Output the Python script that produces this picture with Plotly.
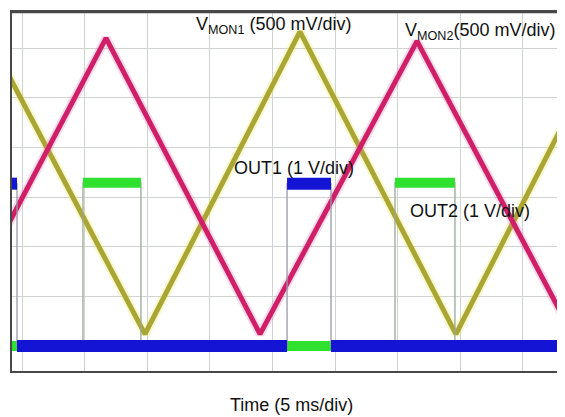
import plotly.graph_objects as go

# time in ms (5 ms/div), signal in screen divisions
vmon1_time = [-2.9, 9.82, 22.2, 34.66, 47.0]
vmon1_div = [6.33, 0.24, 6.33, 0.24, 6.33]

vmon2_time = [-5.7, 6.71, 19.01, 31.55, 43.95]
vmon2_div = [0.24, 6.2, 0.24, 6.14, 0.24]

out1_time = [-2.0, -0.4, -0.4, 21.17, 21.17, 24.68, 24.68, 45.0]
out1_div = [3.27, 3.27, 0.0, 0.0, 3.27, 3.27, 0.0, 0.0]

out2_time = [-2.0, 4.87, 4.87, 9.50, 9.50, 29.79, 29.79, 34.58, 34.58, 45.0]
out2_div = [0.0, 0.0, 3.29, 3.29, 0.0, 0.0, 3.29, 3.29, 0.0, 0.0]


def level_segments(ts, ys):
    xs, vs = [], []
    for i in range(len(ts) - 1):
        if ys[i] == ys[i + 1] and ts[i] != ts[i + 1]:
            xs += [ts[i], ts[i + 1], None]
            vs += [ys[i], ys[i + 1], None]
    return xs, vs


fig = go.Figure()

# triangle waves with soft halo
fig.add_trace(go.Scatter(x=vmon1_time, y=vmon1_div, mode="lines",
                         line=dict(color="rgba(235,235,90,0.3)", width=9), hoverinfo="skip"))
fig.add_trace(go.Scatter(x=vmon1_time, y=vmon1_div, mode="lines",
                         line=dict(color="#aaa636", width=5), name="VMON1"))
fig.add_trace(go.Scatter(x=vmon2_time, y=vmon2_div, mode="lines",
                         line=dict(color="rgba(245,110,175,0.25)", width=9), hoverinfo="skip"))
fig.add_trace(go.Scatter(x=vmon2_time, y=vmon2_div, mode="lines",
                         line=dict(color="#cf1f66", width=5), name="VMON2"))

# OUT2 (green): thin edges, thick levels
fig.add_trace(go.Scatter(x=out2_time, y=out2_div, mode="lines",
                         line=dict(color="#9aa89a", width=1.3), hoverinfo="skip"))
gx, gy = level_segments(out2_time, out2_div)
fig.add_trace(go.Scatter(x=gx, y=gy, mode="lines",
                         line=dict(color="#2fe02f", width=10), name="OUT2"))

# OUT1 (blue)
fig.add_trace(go.Scatter(x=out1_time, y=out1_div, mode="lines",
                         line=dict(color="#9a9aa8", width=1.3), hoverinfo="skip"))
bx, by = level_segments(out1_time, out1_div)
fig.add_trace(go.Scatter(x=bx, y=by, mode="lines",
                         line=dict(color="#1414d4", width=12), name="OUT1"))

font = dict(family="Liberation Sans, Arial, sans-serif", size=18, color="#111111")

annotations = [
    dict(x=20.05, y=6.45, xref="x", yref="y", text="V<sub>MON1</sub> (500 mV/div)"),
    dict(x=36.58, y=6.34, xref="x", yref="y", text="V<sub>MON2</sub>(500 mV/div)"),
    dict(x=21.73, y=3.59, xref="x", yref="y", text="OUT1 (1 V/div)"),
    dict(x=35.78, y=2.73, xref="x", yref="y", text="OUT2 (1 V/div)"),
    dict(x=0.506, y=-0.094, xref="paper", yref="paper", text="Time (5 ms/div)"),
]
for a in annotations:
    a.update(showarrow=False, font=font, xanchor="center", yanchor="middle",
             bgcolor="rgba(0,0,0,0)")

# page body adds an 8 px margin, so the figure is 8 px smaller on each side
fig.update_layout(
    width=557, height=409,
    margin=dict(l=4, r=0, t=4, b=46),
    paper_bgcolor="white", plot_bgcolor="white",
    showlegend=False,
    annotations=annotations,
    shapes=[dict(type="line", xref="paper", yref="paper", x0=0, x1=1, y0=1, y1=1,
                 line=dict(color="#484848", width=2.5), layer="above")],
    xaxis=dict(range=[-0.8, 43.37], tick0=0, dtick=5, showticklabels=False,
               showgrid=True, gridcolor="#d0d4d0", gridwidth=1, zeroline=False,
               showline=True, linecolor="#484848", linewidth=2, mirror=True, ticks=""),
    yaxis=dict(range=[-0.502, 6.727], tick0=0, dtick=1, showticklabels=False,
               showgrid=True, gridcolor="#d0d4d0", gridwidth=1, zeroline=False,
               showline=True, linecolor="#484848", linewidth=2, mirror=False, ticks=""),
)

fig.write_html("out.html")
